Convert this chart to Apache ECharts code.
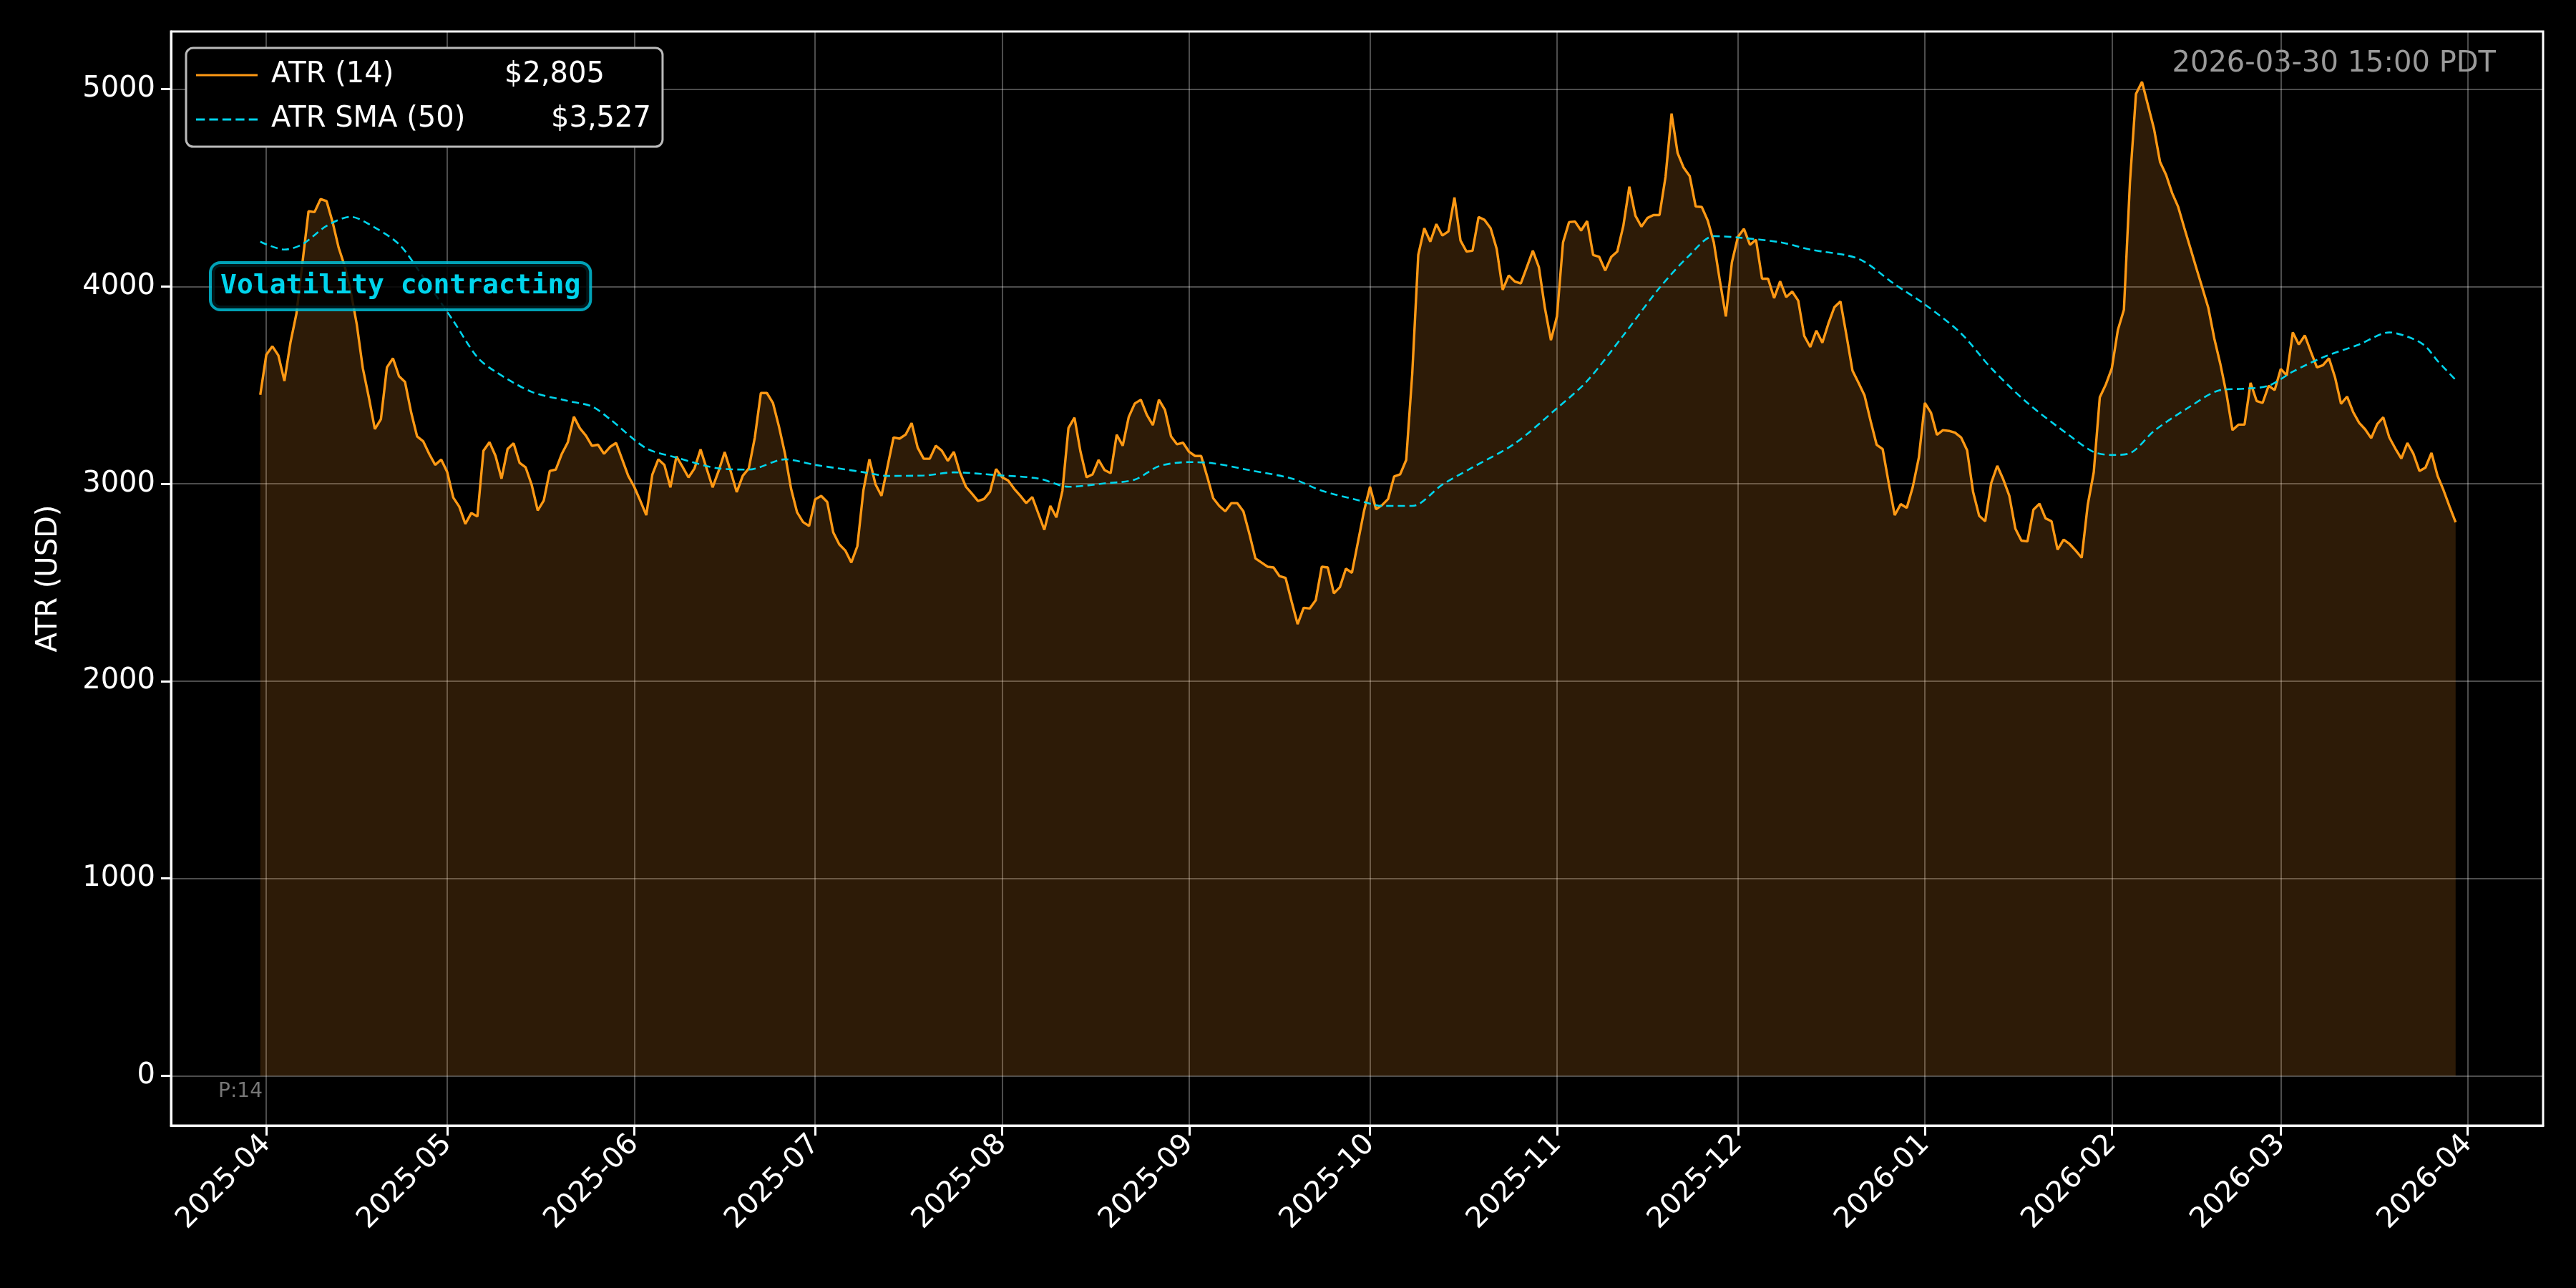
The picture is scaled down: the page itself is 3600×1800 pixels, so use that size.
<!DOCTYPE html>
<html>
<head>
<meta charset="utf-8">
<script src="https://cdn.jsdelivr.net/npm/echarts@6/dist/echarts.min.js"></script>
<style>
  html, body { margin: 0; padding: 0; background: #000; }
  #main { width: 3600px; height: 1800px; }
</style>
</head>
<body>
<div id="main"></div>
<script>
// ---------------------------------
// Data
// ---------------------------------
const ATR_START = '2025-03-31'; // daily values from this date
const atrValues = [
  3451, 3654, 3697, 3651, 3521, 3715, 3863, 4122, 4381, 4377,
  4443, 4432, 4325, 4196, 4103, 3974, 3808, 3586, 3438, 3277,
  3327, 3590, 3636, 3545, 3516, 3364, 3240, 3216, 3152, 3096,
  3123, 3059, 2930, 2884, 2797, 2852, 2834, 3167, 3211, 3142,
  3026, 3176, 3205, 3106, 3083, 2995, 2865, 2915, 3065, 3072,
  3152, 3211, 3340, 3281, 3244, 3192, 3198, 3152, 3187, 3207,
  3124, 3041, 2985, 2915, 2841, 3046, 3124, 3096, 2982, 3139,
  3087, 3032, 3078, 3174, 3078, 2982, 3065, 3161, 3063, 2958,
  3041, 3078, 3235, 3460, 3460, 3410, 3290, 3152, 2976, 2856,
  2806, 2786, 2921, 2939, 2908, 2754, 2693, 2662, 2601, 2684,
  2967, 3124, 2998, 2939, 3087,
  // Jul 14 ->
  3235, 3229, 3249, 3308, 3183, 3127, 3127, 3193, 3168, 3116,
  3162, 3058, 2985, 2950, 2913, 2923, 2960, 3075, 3033, 3017,
  2975, 2940, 2902, 2933, 2850, 2767, 2888, 2830, 2965, 3283,
  3335, 3162, 3033, 3048, 3121, 3069, 3054, 3249, 3193, 3339,
  3407, 3426, 3349, 3297, 3426, 3374, 3241, 3200, 3208, 3162,
  3141, 3141, 3037, 2927, 2888, 2861, 2902, 2902, 2861, 2746,
  2622, 2601, 2580, 2576, 2532, 2523, 2403, 2289, 2372, 2368,
  2410, 2580, 2576, 2445, 2476, 2570, 2549, 2705, 2861, 2985,
  2871, 2892, 2923, 3037, 3048, 3121, 3557, 4160, 4295, 4227,
  4316, 4258, 4279, 4451, 4233, 4177, 4181, 4352, 4337, 4295,
  4191, 3983, 4056, 4025, 4015, 4098, 4181, 4098, 3890, 3728,
  3849, 4223, 4326,
  // Nov 4 ->
  4329, 4283, 4331, 4159, 4150, 4081, 4150, 4177, 4307, 4506,
  4359, 4303, 4347, 4362, 4362, 4556, 4876, 4676, 4602, 4560,
  4405, 4403, 4334, 4224, 4030, 3848, 4122, 4251, 4292, 4211,
  4237, 4039, 4039, 3941, 4026, 3946, 3974, 3928, 3749, 3693,
  3776, 3715, 3812, 3895, 3924, 3752, 3573, 3512, 3447, 3318,
  3198, 3176, 3004, 2841, 2897, 2878, 2985, 3133, 3410, 3361,
  3248, 3272, 3268, 3259, 3235, 3170, 2958, 2838, 2810, 3004,
  3091, 3022, 2939, 2773, 2712, 2708, 2869, 2899, 2825, 2810,
  2666, 2717, 2695, 2662, 2625, 2893, 3059, 3438, 3503, 3586,
  3780, 3882, 4528, 4976, 5037, 4917, 4797, 4630, 4565, 4473,
  4403, 4298, 4196, 4094, 3993, 3891, 3734, 3605, 3457, 3272,
  3300, 3300, 3512, 3420,
  // Feb 26 ->
  3410, 3497, 3475, 3582, 3549, 3767, 3706, 3752, 3669, 3590,
  3601, 3636, 3540, 3405, 3442, 3364, 3309, 3276, 3231, 3303,
  3337, 3235, 3179, 3128, 3207, 3152, 3065, 3082, 3157, 3041,
  2967, 2884, 2805
];

const smaDates = [
  '2025-03-31', '2025-04-04', '2025-04-07', '2025-04-11', '2025-04-15', '2025-04-18',
  '2025-04-23', '2025-04-27', '2025-05-02', '2025-05-06', '2025-05-09', '2025-05-15',
  '2025-05-21', '2025-05-25', '2025-05-28', '2025-06-03', '2025-06-08', '2025-06-15',
  '2025-06-20', '2025-06-26', '2025-07-01', '2025-07-09', '2025-07-13', '2025-07-19',
  '2025-07-24', '2025-07-31', '2025-08-07', '2025-08-12', '2025-08-18', '2025-08-23',
  '2025-08-27', '2025-09-01', '2025-09-05', '2025-09-11', '2025-09-18', '2025-09-23',
  '2025-09-29', '2025-10-03', '2025-10-08', '2025-10-13', '2025-10-18', '2025-10-25',
  '2025-11-01', '2025-11-06', '2025-11-12', '2025-11-18', '2025-11-23', '2025-11-27',
  '2025-12-01', '2025-12-08', '2025-12-13', '2025-12-21', '2025-12-27', '2026-01-01',
  '2026-01-07', '2026-01-12', '2026-01-18', '2026-01-25', '2026-01-29', '2026-02-01',
  '2026-02-04', '2026-02-08', '2026-02-14', '2026-02-19', '2026-02-23', '2026-02-27',
  '2026-03-03', '2026-03-08', '2026-03-14', '2026-03-19', '2026-03-23', '2026-03-25',
  '2026-03-27', '2026-03-30'
];
const smaValues = [
  4227, 4187, 4214, 4307, 4353, 4316,
  4214, 4048, 3826, 3641, 3568, 3466,
  3420, 3392, 3327, 3180, 3133, 3078,
  3072, 3124, 3096, 3059, 3040, 3042,
  3058, 3044, 3027, 2985, 3002, 3021,
  3089, 3110, 3104, 3069, 3027, 2965,
  2917, 2888, 2888, 2996, 3083, 3204,
  3383, 3521, 3752, 3993, 4159, 4255,
  4248, 4224, 4187, 4140, 4011, 3909,
  3762, 3586, 3410, 3244, 3161, 3146,
  3155, 3268, 3392, 3475, 3482, 3497,
  3568, 3641, 3706, 3767, 3734, 3697,
  3623, 3527
];

const yTicks = [0, 1000, 2000, 3000, 4000, 5000];
const monthTicks = [
  '2025-04-01', '2025-05-01', '2025-06-01', '2025-07-01', '2025-08-01', '2025-09-01',
  '2025-10-01', '2025-11-01', '2025-12-01', '2026-01-01', '2026-02-01', '2026-03-01',
  '2026-04-01'
];

// ---------------------------------
// Helpers
// ---------------------------------
const DAY = 24 * 3600 * 1000;
function ts(s) { return new Date(s + 'T00:00:00Z').getTime(); }
function fmtMoney(v) { return '$' + v.toLocaleString('en-US'); }

const t0 = ts(ATR_START);
const atrData = atrValues.map((v, i) => [t0 + i * DAY, v]);
const smaData = smaDates.map((d, i) => [ts(d), smaValues[i]]);
const monthTs = monthTicks.map(ts);

const ORANGE = '#ff9914';
const CYAN = '#00d4ec';
const FONT = 'DejaVu Sans';
const GRIDLINE = 'rgba(255,255,255,0.3)';

const chart = echarts.init(document.getElementById('main'), null, { renderer: 'canvas' });

const option = {
  backgroundColor: '#000',
  animation: false,
  grid: { left: 239, right: 46, top: 44, bottom: 227, show: true, borderColor: '#fff', borderWidth: 3 },
  legend: {
    left: 260, top: 67,
    orient: 'vertical',
    backgroundColor: '#000',
    borderColor: '#bbb', borderWidth: 3, borderRadius: 10,
    padding: [18, 16, 18, 14],
    itemGap: 22, itemWidth: 86, itemHeight: 20,
    data: [
      { name: 'ATR (14)', icon: 'path://M0,0 L90,0 L90,3 L0,3 Z', itemStyle: { color: ORANGE } },
      { name: 'ATR SMA (50)', icon: 'path://M0,0 L12,0 L12,3 L0,3 Z M18,0 L30,0 L30,3 L18,3 Z M36,0 L48,0 L48,3 L36,3 Z M54,0 L66,0 L66,3 L54,3 Z M72,0 L84,0 L84,3 L72,3 Z', itemStyle: { color: CYAN } }
    ],
    formatter: function (name) {
      if (name === 'ATR (14)') return '{a|' + name + '}{v|' + fmtMoney(atrValues[atrValues.length - 1]) + '}';
      return '{b|' + name + '}{v|' + fmtMoney(smaValues[smaValues.length - 1]) + '}';
    },
    textStyle: {
      color: '#fff', fontFamily: FONT, fontSize: 40, padding: [0, 0, 0, 14],
      rich: {
        a: { color: '#fff', fontFamily: FONT, fontSize: 40, width: 326 },
        b: { color: '#fff', fontFamily: FONT, fontSize: 40, width: 391 },
        v: { color: '#fff', fontFamily: FONT, fontSize: 40 }
      }
    }
  },
  xAxis: {
    type: 'value',
    min: ts('2025-04-01') - 15.8 * DAY,
    max: ts('2026-04-01') + 12.5 * DAY,
    axisLine: { show: true, onZero: false, lineStyle: { color: '#fff', width: 3 } },
    axisTick: { show: true, customValues: monthTs, length: 14, lineStyle: { color: '#fff', width: 3 } },
    axisLabel: {
      customValues: monthTs,
      rotate: 45, color: '#fff', fontFamily: FONT, fontSize: 40, margin: 20,
      formatter: function (v) {
        const d = new Date(v);
        return d.getUTCFullYear() + '-' + String(d.getUTCMonth() + 1).padStart(2, '0');
      }
    },
    splitLine: { show: true, lineStyle: { color: GRIDLINE, width: 2 } }
  },
  yAxis: {
    type: 'value',
    min: -252, max: 5292,
    name: 'ATR (USD)', nameLocation: 'middle', nameGap: 150,
    nameTextStyle: { color: '#fff', fontFamily: FONT, fontSize: 40 },
    axisLine: { show: true, lineStyle: { color: '#fff', width: 3 } },
    axisTick: { show: true, customValues: yTicks, length: 14, lineStyle: { color: '#fff', width: 3 } },
    axisLabel: {
      customValues: yTicks, color: '#fff', fontFamily: FONT, fontSize: 40, margin: 22,
      formatter: function (v) { return String(v); }
    },
    splitLine: { show: true, lineStyle: { color: GRIDLINE, width: 2 } }
  },
  series: [
    {
      name: 'ATR (14)',
      type: 'line',
      data: atrData,
      showSymbol: false,
      lineStyle: { color: ORANGE, width: 3.4 },
      itemStyle: { color: ORANGE },
      areaStyle: { color: 'rgba(255,155,40,0.25)', origin: 0 },
      z: 3
    },
    {
      name: 'ATR SMA (50)',
      type: 'line',
      data: smaData,
      smooth: 0.3,
      showSymbol: false,
      lineStyle: { color: CYAN, width: 2.6, type: [10, 6] },
      itemStyle: { color: CYAN },
      z: 4
    }
  ],
  graphic: [
    {
      type: 'text', left: 292, top: 365, z: 10,
      style: {
        text: 'Volatility contracting',
        fill: CYAN, font: 'bold 38px "DejaVu Sans Mono"',
        backgroundColor: 'rgba(0,0,0,0.85)',
        borderColor: 'rgba(0,190,215,0.85)', borderWidth: 4, borderRadius: 12,
        padding: [12, 12, 12, 12]
      }
    },
    {
      type: 'text', right: 112, top: 70, z: 10,
      style: { text: '2026-03-30 15:00 PDT', fill: '#9a9a9a', font: '40px "DejaVu Sans"' }
    },
    {
      type: 'text', left: 305, top: 1512, z: 10,
      style: { text: 'P:14', fill: '#777', font: '28px "DejaVu Sans"' }
    }
  ]
};

chart.setOption(option);
</script>
</body>
</html>
